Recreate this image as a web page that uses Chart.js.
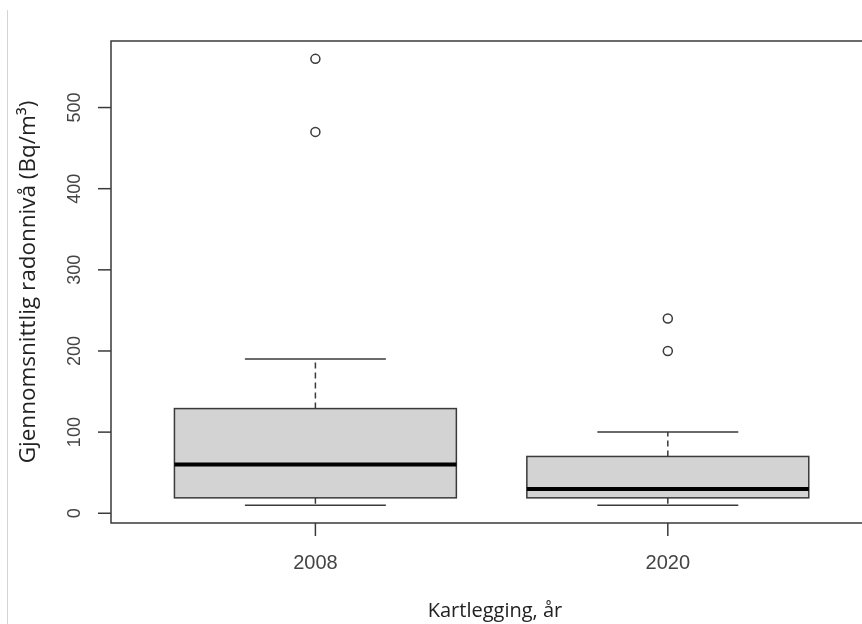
<!DOCTYPE html>
<html>
<head>
<meta charset="utf-8">
<script src="https://cdn.jsdelivr.net/npm/chart.js@4.4.1/dist/chart.umd.min.js"></script>
<style>
  html, body { margin: 0; padding: 0; background: #fff; }
  #wrap { width: 862px; height: 624px; position: relative; }
</style>
</head>
<body>
<div id="wrap"><canvas id="chart"></canvas></div>
<script>
// values
const years = ['2008', '2020']
const mins = [10, 10]
const q1s = [19, 19]
const medians = [60, 30]
const q3s = [129, 70]
const maxs = [190, 100]
const outliers = [[470, 560], [200, 240]]
const yTicks = [0, 100, 200, 300, 400, 500]
const yTitle = 'Gjennomsnittlig radonnivå (Bq/m³)'
const xTitle = 'Kartlegging, år'

const lineColor = '#3a3a3a'

// R-style boxplot drawn through the chart scales
const boxplotPlugin = {
    id: 'rBoxplot',
    beforeDatasetsDraw(chart) {
        const ctx = chart.ctx
        const xs = chart.scales.x
        const ys = chart.scales.y
        ctx.save()
        years.forEach((year, i) => {
            const pos = i + 1
            const cx = xs.getPixelForValue(pos)
            const left = xs.getPixelForValue(pos - 0.4)
            const right = xs.getPixelForValue(pos + 0.4)
            const capL = xs.getPixelForValue(pos - 0.2)
            const capR = xs.getPixelForValue(pos + 0.2)
            const yMin = ys.getPixelForValue(mins[i])
            const yQ1 = ys.getPixelForValue(q1s[i])
            const yMed = ys.getPixelForValue(medians[i])
            const yQ3 = ys.getPixelForValue(q3s[i])
            const yMax = ys.getPixelForValue(maxs[i])

            ctx.strokeStyle = lineColor
            ctx.lineWidth = 1.5

            // dashed whiskers
            ctx.setLineDash([6, 4])
            ctx.beginPath()
            ctx.moveTo(cx, yQ3)
            ctx.lineTo(cx, yMax)
            ctx.moveTo(cx, yQ1)
            ctx.lineTo(cx, yMin)
            ctx.stroke()
            ctx.setLineDash([])

            // staples
            ctx.beginPath()
            ctx.moveTo(capL, yMax)
            ctx.lineTo(capR, yMax)
            ctx.moveTo(capL, yMin)
            ctx.lineTo(capR, yMin)
            ctx.stroke()

            // box
            ctx.fillStyle = '#d3d3d3'
            ctx.fillRect(left, yQ3, right - left, yQ1 - yQ3)
            ctx.strokeRect(left, yQ3, right - left, yQ1 - yQ3)

            // median
            ctx.strokeStyle = '#000'
            ctx.lineWidth = 4
            ctx.beginPath()
            ctx.moveTo(left, yMed)
            ctx.lineTo(right, yMed)
            ctx.stroke()
        })
        ctx.restore()
    },
    afterDraw(chart) {
        const ctx = chart.ctx
        const ca = chart.chartArea
        const xs = chart.scales.x
        const ys = chart.scales.y
        ctx.save()

        // screenshot edge line on the left
        ctx.strokeStyle = '#d4d4d4'
        ctx.lineWidth = 1
        ctx.beginPath()
        ctx.moveTo(7.5, 10)
        ctx.lineTo(7.5, 624)
        ctx.stroke()

        // plot frame (right side is cut off by the crop)
        ctx.strokeStyle = lineColor
        ctx.lineWidth = 1.5
        ctx.beginPath()
        ctx.moveTo(chart.width, ca.top)
        ctx.lineTo(ca.left, ca.top)
        ctx.lineTo(ca.left, ca.bottom)
        ctx.lineTo(chart.width, ca.bottom)
        ctx.stroke()

        // y ticks
        ctx.fillStyle = '#444'
        ctx.font = '18px "Liberation Sans", Arial, sans-serif'
        ctx.textAlign = 'center'
        ctx.textBaseline = 'middle'
        yTicks.forEach(v => {
            const y = ys.getPixelForValue(v)
            ctx.beginPath()
            ctx.moveTo(ca.left - 13, y)
            ctx.lineTo(ca.left, y)
            ctx.stroke()
            ctx.save()
            ctx.translate(75, y)
            ctx.rotate(-Math.PI / 2)
            ctx.fillText(String(v), 0, 0)
            ctx.restore()
        })

        // x ticks
        ctx.font = '20px "Liberation Sans", Arial, sans-serif'
        years.forEach((year, i) => {
            const x = xs.getPixelForValue(i + 1)
            ctx.beginPath()
            ctx.moveTo(x, ca.bottom)
            ctx.lineTo(x, ca.bottom + 13)
            ctx.stroke()
            ctx.fillText(year, x, 563)
        })

        // axis titles
        ctx.fillStyle = '#222'
        ctx.font = '20px "Open Sans", "Noto Sans", sans-serif'
        ctx.fillText(xTitle, 495, 611)
        ctx.save()
        ctx.translate(29, (ca.top + ca.bottom) / 2)
        ctx.rotate(-Math.PI / 2)
        ctx.font = '22.5px "Open Sans", "Noto Sans", sans-serif'
        ctx.fillText(yTitle, 0, 0)
        ctx.restore()

        ctx.restore()
    }
}

const outlierPoints = []
outliers.forEach((list, i) => {
    list.forEach(v => outlierPoints.push({ x: i + 1, y: v }))
})

new Chart(document.getElementById('chart'), {
    type: 'scatter',
    data: {
        datasets: [{
            label: 'outliers',
            data: outlierPoints,
            pointStyle: 'circle',
            pointRadius: 4.5,
            pointBorderWidth: 1.5,
            borderColor: lineColor,
            backgroundColor: 'rgba(0,0,0,0)'
        }]
    },
    options: {
        responsive: true,
        maintainAspectRatio: false,
        animation: false,
        layout: {
            padding: { left: 111, top: 41, right: 0, bottom: 101 }
        },
        plugins: {
            legend: { display: false },
            tooltip: { enabled: false }
        },
        scales: {
            x: { type: 'linear', min: 0.42, max: 2.534, display: false },
            y: { type: 'linear', min: -12, max: 582, display: false }
        }
    },
    plugins: [boxplotPlugin]
})
</script>
</body>
</html>
